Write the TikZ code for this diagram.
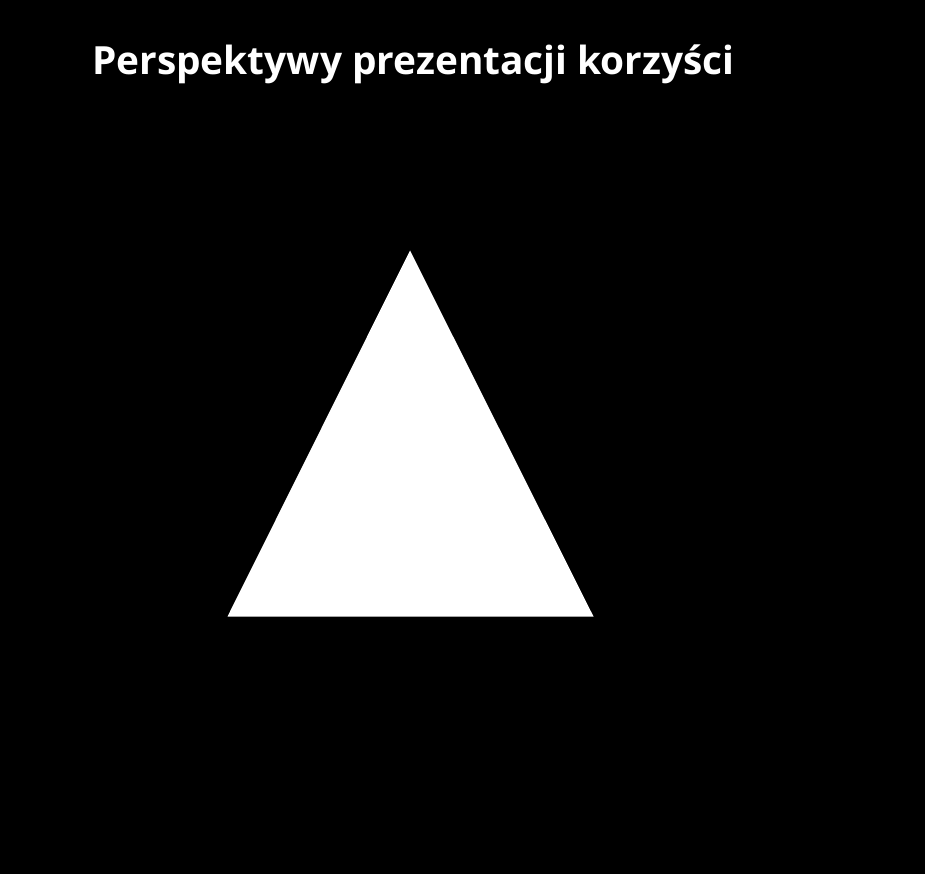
\documentclass[tikz,border=0pt]{standalone}
\usepackage{fontspec}
\setsansfont{Open Sans}
\usetikzlibrary{positioning}
\begin{document}
\begin{tikzpicture}
   [x=1pt,y=-1pt,
    heading/.style={anchor=base west,inner sep=0pt,text=white,
      font=\sffamily\bfseries\fontsize{38.8}{46}\selectfont},
    pyramid/.style={fill=white,draw=none}]
\fill [black] (0,0) rectangle (925,874);
\useasboundingbox (0,0) rectangle (925,874);
\node [heading] (title) at (92,75) {Perspektywy prezentacji korzyści};
\coordinate (apex) at (410,250.5);
\coordinate (base left) at (227.5,616.5);
\coordinate (base right) at (593.5,616.5);
\fill [pyramid] (apex) -- (base right) -- (base left) -- cycle;
\end{tikzpicture}
\end{document}
